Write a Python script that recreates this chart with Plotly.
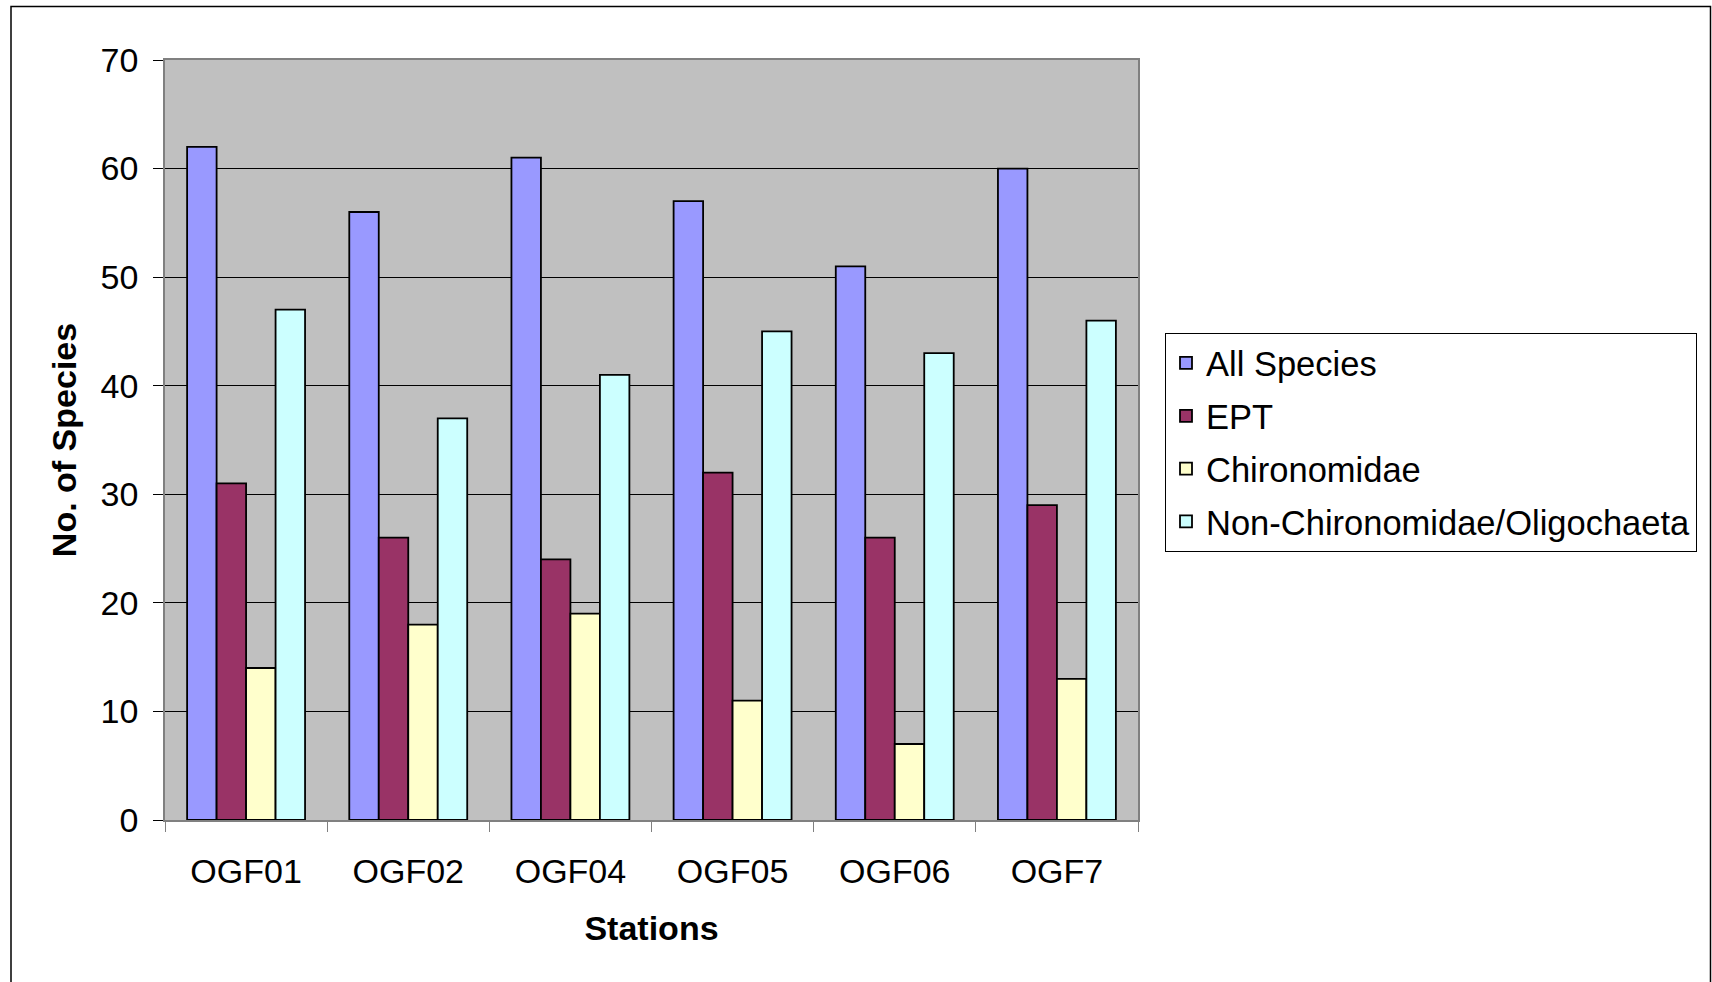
import plotly.graph_objects as go

# Species counts per sampling station
stations = ["OGF01", "OGF02", "OGF04", "OGF05", "OGF06", "OGF7"]
all_species = [62, 56, 61, 57, 51, 60]
ept = [31, 26, 24, 32, 26, 29]
chironomidae = [14, 18, 19, 11, 7, 13]
non_chiro_oligo = [47, 37, 41, 45, 43, 46]

series_names = ["All Species", "EPT", "Chironomidae", "Non-Chironomidae/Oligochaeta"]
series_values = [all_species, ept, chironomidae, non_chiro_oligo]
series_colors = ["#9999FF", "#993366", "#FFFFCC", "#CCFFFF"]

y_ticks = [0, 10, 20, 30, 40, 50, 60, 70]

FONT = "Liberation Sans, Arial, sans-serif"

W, H = 1712, 982
L, R, T, B = 165, 574, 60, 162
plot_w = W - L - R
plot_h = H - T - B


def px_to_paper_x(px):
    return (px - L) / plot_w


def px_to_paper_y(py):
    return (H - B - py) / plot_h


fig = go.Figure()
for i, (name, vals, col) in enumerate(zip(series_names, series_values, series_colors)):
    fig.add_trace(go.Bar(
        x=stations, y=vals, name=name,
        marker=dict(color=col, line=dict(color="black", width=1.8)),
        legendgroup=f"g{i}",
    ))

fig.update_layout(
    width=W, height=H,
    margin=dict(l=L, r=R, t=T, b=B, pad=0),
    paper_bgcolor="white",
    plot_bgcolor="#C0C0C0",
    barmode="group",
    bargap=0.2727,
    bargroupgap=0,
    font=dict(family=FONT, size=34, color="black"),
    legend=dict(
        x=px_to_paper_x(1165), y=px_to_paper_y(333),
        xanchor="left", yanchor="top",
        bgcolor="white", bordercolor="black", borderwidth=1,
        font=dict(family=FONT, size=34.5, color="black"),
        tracegroupgap=5,
    ),
    xaxis=dict(
        title=dict(text="<b>Stations</b>", font=dict(size=34), standoff=28),
        tickson="boundaries", ticks="outside", ticklen=10, tickcolor="#808080",
        ticklabelstandoff=20,
        showline=True, linecolor="#808080", linewidth=1.5, mirror=True,
        showgrid=False, tickfont=dict(size=34),
    ),
    yaxis=dict(
        title=dict(text="<b>No. of Species</b>", font=dict(size=34), standoff=14),
        range=[0, 70], tickvals=y_ticks, ticks="outside", ticklen=10,
        tickcolor="black", ticklabelstandoff=8,
        showline=True, linecolor="#808080", linewidth=1.5, mirror=True,
        showgrid=True, gridcolor="black", gridwidth=1,
        zeroline=False, tickfont=dict(size=34),
    ),
)

# Outer chart frame
fig.add_shape(
    type="rect", xref="paper", yref="paper",
    x0=px_to_paper_x(11), x1=px_to_paper_x(1710.5),
    y0=px_to_paper_y(1000), y1=px_to_paper_y(6.5),
    line=dict(color="black", width=1.5), fillcolor="rgba(0,0,0,0)",
    layer="below",
)

fig.write_html("out.html")
